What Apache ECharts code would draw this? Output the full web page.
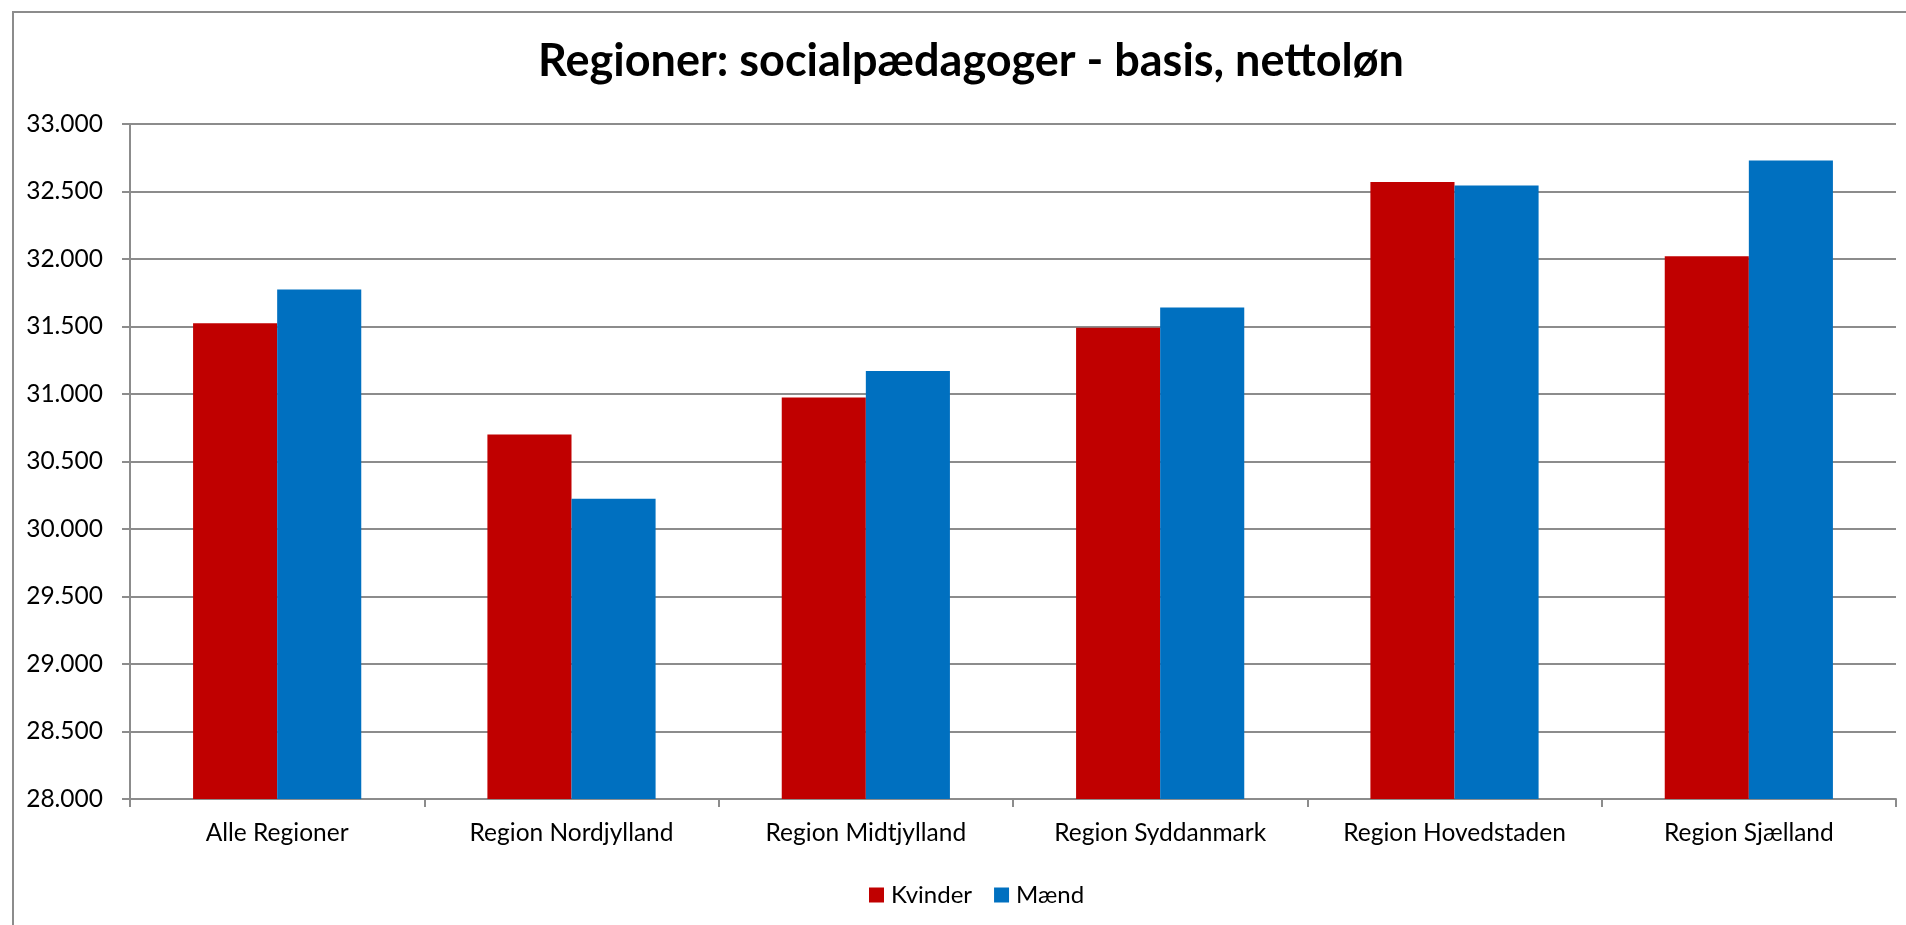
<!DOCTYPE html>
<html>
<head>
<meta charset="utf-8">
<script src="https://cdn.jsdelivr.net/npm/echarts@6/dist/echarts.min.js"></script>
<style>
html,body{margin:0;padding:0;background:#fff;}
#frame{position:absolute;left:12px;top:11px;width:1920px;height:940px;border:2px solid #8c8c8c;box-sizing:border-box;}
#chart{position:absolute;left:0;top:0;width:1906px;height:925px;}
</style>
</head>
<body>
<div id="frame"></div>
<div id="chart"></div>
<script>
const titleText = 'Regioner: socialpædagoger - basis, nettoløn';
const categories = ['Alle Regioner','Region Nordjylland','Region Midtjylland','Region Syddanmark','Region Hovedstaden','Region Sjælland'];
const seriesNames = ['Kvinder','Mænd'];
const kvinder = [31525, 30700, 30975, 31490, 32570, 32020];
const maend = [31775, 30225, 31170, 31640, 32545, 32730];
const yMin = 28000, yMax = 33000, yStep = 500;

const FONT = 'Lato, "Open Sans", sans-serif';
const chart = echarts.init(document.getElementById('chart'), null, {renderer:'canvas'});
chart.setOption({
  animation:false,
  backgroundColor:'transparent',
  title:{
    text:titleText,
    left:966, top:34, textAlign:'center',
    textStyle:{fontFamily:FONT,fontWeight:'bold',fontSize:45,color:'#000'}
  },
  legend:{
    data:seriesNames,
    left:864, top:878,
    icon:'rect', itemWidth:15, itemHeight:15, itemGap:22,
    textStyle:{fontFamily:FONT,fontSize:24,color:'#000',padding:[0,0,0,2]}
  },
  grid:{left:130,right:10,top:124,bottom:126,containLabel:false},
  xAxis:{
    type:'category', data:categories,
    axisLine:{show:true,lineStyle:{color:'#8c8c8c',width:2}},
    axisTick:{show:true,length:8,inside:false,lineStyle:{color:'#8c8c8c',width:2}},
    axisLabel:{fontFamily:FONT,fontSize:24.5,color:'#000',margin:22},
    splitLine:{show:false}
  },
  yAxis:{
    type:'value', min:yMin, max:yMax, interval:yStep,
    axisLine:{show:true,lineStyle:{color:'#8c8c8c',width:2}},
    axisTick:{show:true,length:8,lineStyle:{color:'#8c8c8c',width:2}},
    axisLabel:{fontFamily:FONT,fontSize:24.5,color:'#000',margin:27,
      formatter:v=>(v/1000).toFixed(3)},
    splitLine:{show:true,lineStyle:{color:'#8c8c8c',width:2}}
  },
  series:[
    {name:seriesNames[0],type:'bar',data:kvinder,barGap:'0%',barCategoryGap:'42.86%',
     itemStyle:{color:'#C00000'}},
    {name:seriesNames[1],type:'bar',data:maend,barGap:'0%',barCategoryGap:'42.86%',
     itemStyle:{color:'#0070C0'}}
  ]
});
</script>
</body>
</html>
